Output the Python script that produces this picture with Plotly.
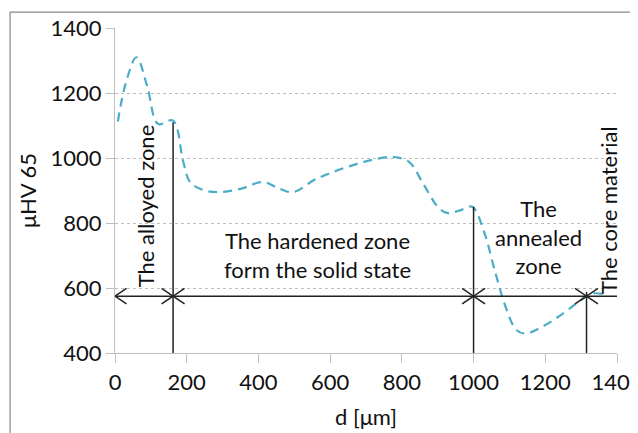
import plotly.graph_objects as go

# Hardness profile
d_um = [8, 30, 60, 90, 120, 162, 190, 210, 250, 293, 350, 413, 460, 497, 560, 655, 720, 778, 820, 860, 900, 926, 960, 996, 1030, 1060, 1090, 1120, 1146, 1190, 1241, 1290, 1327, 1360]
hv = [1112, 1230, 1310, 1220, 1105, 1115, 990, 925, 900, 895, 905, 926, 905, 895, 935, 975, 995, 1003, 988, 920, 850, 831, 838, 850, 770, 650, 540, 470, 460, 480, 515, 555, 582, 582]

# Zone boundaries and annotations
boundaries = [0, 162, 1000, 1315, 1400]
boundary_tops = [None, 1110, 850, 588, None]
arrow_level = 575

x_ticks = [0, 200, 400, 600, 800, 1000, 1200, 1400]
y_ticks = [400, 600, 800, 1000, 1200, 1400]

FONT = "Lato, 'Open Sans', sans-serif"
LINE_C = "#4bacc6"
FS = 22

fig = go.Figure()

fig.add_trace(go.Scatter(
    x=d_um, y=hv, mode="lines",
    line=dict(color=LINE_C, width=2.2, dash="9px,6px", shape="spline", smoothing=1.0),
    hoverinfo="skip", showlegend=False))

# vertical boundary lines
for b, top in zip(boundaries, boundary_tops):
    if top is None:
        continue
    fig.add_trace(go.Scatter(x=[b, b], y=[400, top], mode="lines",
                             line=dict(color="#222222", width=1.5),
                             hoverinfo="skip", showlegend=False))

# horizontal arrow line
fig.add_trace(go.Scatter(x=[boundaries[0], boundaries[-1]], y=[arrow_level, arrow_level],
                         mode="lines", line=dict(color="#222222", width=1.5),
                         hoverinfo="skip", showlegend=False))

# arrowheads (open chevrons)
hx, hy = 32, 24
ax, ay = [], []
for i in range(len(boundaries) - 1):
    left, right = boundaries[i], boundaries[i + 1]
    ax += [left + hx, left, left + hx, None]
    ay += [arrow_level + hy, arrow_level, arrow_level - hy, None]
    if i < len(boundaries) - 2:
        ax += [right - hx, right, right - hx, None]
        ay += [arrow_level + hy, arrow_level, arrow_level - hy, None]
fig.add_trace(go.Scatter(x=ax, y=ay, mode="lines", line=dict(color="#222222", width=1.5),
                         hoverinfo="skip", showlegend=False))

tf = dict(family=FONT, size=FS, color="#111111")
fig.add_annotation(x=84, y=852, text="The alloyed zone", textangle=-90, showarrow=False, font=tf)
fig.add_annotation(x=566, y=702, text="The hardened zone<br>form the solid state", showarrow=False,
                   font=tf, align="center")
fig.add_annotation(x=1180, y=757, text="The<br>annealed<br>zone", showarrow=False, font=tf, align="center")
fig.add_annotation(x=1375, y=840, text="The core material", textangle=-90, showarrow=False, font=tf)

# chart outer border
fig.add_shape(type="rect", xref="paper", yref="paper", x0=-0.209, x1=1.2, y0=-0.5, y1=1.049,
              line=dict(color="#888888", width=1.2), fillcolor="rgba(0,0,0,0)")

fig.update_layout(
    width=638, height=433,
    margin=dict(l=107, r=29, t=20, b=88),
    paper_bgcolor="white", plot_bgcolor="white",
    font=dict(family=FONT, size=FS, color="#111111"),
    xaxis=dict(range=[0, 1400], tickvals=x_ticks, showgrid=False, zeroline=False,
               showline=True, linecolor="#bfbfbf", linewidth=1.3, automargin=False,
               ticks="outside", ticklen=9, tickcolor="#bfbfbf",
               title=dict(text="d [μm]", standoff=16, font=dict(family=FONT, size=FS)),
               tickfont=dict(family=FONT, size=FS)),
    yaxis=dict(range=[400, 1400], tickvals=y_ticks, showgrid=True, gridcolor="#bfbfbf",
               griddash="dot", gridwidth=1, zeroline=False, automargin=False,
               showline=True, linecolor="#bfbfbf", linewidth=1.3,
               ticks="outside", ticklen=8, tickcolor="#bfbfbf",
               title=dict(text="μHV 65", standoff=7, font=dict(family=FONT, size=FS)),
               tickfont=dict(family=FONT, size=FS)),
)

fig.write_html("out.html")
